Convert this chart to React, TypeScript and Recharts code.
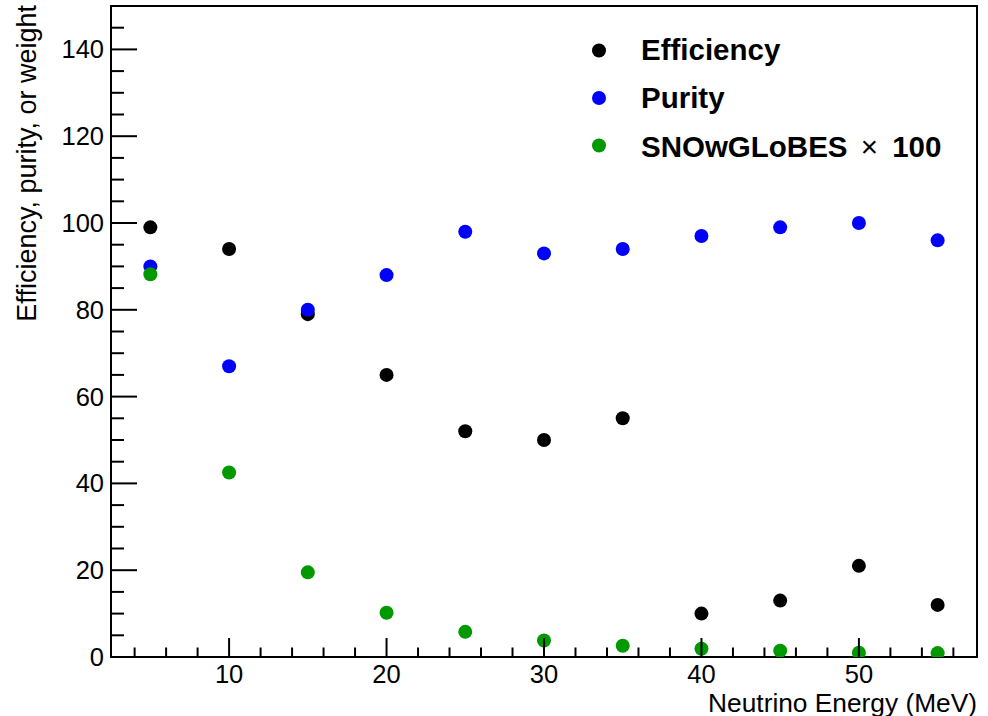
import React from 'react';
import { ScatterChart, Scatter, XAxis, YAxis, Legend, ReferenceArea, Label } from 'recharts';

// ---- data ----
const energies = [5, 10, 15, 20, 25, 30, 35, 40, 45, 50, 55];
const efficiency = [99, 94, 79, 65, 52, 50, 55, 10, 13, 21, 12];
const purity = [90, 67, 80, 88, 98, 93, 94, 97, 99, 100, 96];
const snowglobes = [88.2, 42.5, 19.5, 10.2, 5.8, 3.8, 2.6, 1.9, 1.45, 1.0, 0.9];

const seriesNames = ['Efficiency', 'Purity', 'SNOwGLoBES × 100'];
const seriesColors = ['#000000', '#0000ff', '#009900'];

const xTicks = [4, 6, 8, 10, 12, 14, 16, 18, 20, 22, 24, 26, 28, 30, 32, 34, 36, 38, 40, 42, 44, 46, 48, 50, 52, 54, 56];
const xMajor = [10, 20, 30, 40, 50];
const yTicks = [0, 5, 10, 15, 20, 25, 30, 35, 40, 45, 50, 55, 60, 65, 70, 75, 80, 85, 90, 95, 100, 105, 110, 115, 120, 125, 130, 135, 140, 145];
const yMajor = [0, 20, 40, 60, 80, 100, 120, 140];

const xTitle = 'Neutrino Energy (MeV)';
const yTitle = 'Efficiency, purity, or weight';

const FONT = '"Liberation Sans", Arial, Helvetica, sans-serif';

const toPoints = (ys: number[]) => energies.map((x, i) => ({ x, y: ys[i] }));
const seriesData = [toPoints(efficiency), toPoints(purity), toPoints(snowglobes)];

const XTick = (props: any) => {
  const { x, y, payload } = props;
  const major = xMajor.includes(payload.value);
  return (
    <g>
      <line x1={x} x2={x} y1={y} y2={y - (major ? 19 : 9.5)} stroke="#000" strokeWidth={2} />
      {major && (
        <text x={x} y={y + 26} textAnchor="middle" fontSize={25.5} fontFamily={FONT} fill="#000">
          {payload.value}
        </text>
      )}
    </g>
  );
};

const YTick = (props: any) => {
  const { x, y, payload } = props;
  const major = yMajor.includes(payload.value);
  return (
    <g>
      <line x1={x} x2={x + (major ? 26 : 13)} y1={y} y2={y} stroke="#000" strokeWidth={2} />
      {major && (
        <text x={x - 7} y={y + 9} textAnchor="end" fontSize={25.5} fontFamily={FONT} fill="#000">
          {payload.value}
        </text>
      )}
    </g>
  );
};

const makeDot = (color: string) => (props: any) => {
  const { cx, cy } = props;
  if (cx == null || cy == null) return <g />;
  return <circle cx={cx} cy={cy} r={7} fill={color} />;
};

const renderLegend = () => (
  <svg width={380} height={150} style={{ overflow: 'visible' }}>
    {seriesNames.map((name, i) => {
      const parts = name.split('×');
      const cy = 28.5 + i * 47.5;
      const ty = 38 + i * 48.3;
      return (
        <g key={name}>
          <circle cx={14} cy={cy} r={7} fill={seriesColors[i]} />
          <text x={56} y={ty} fontSize={29.5} fontWeight="bold" fontFamily={FONT} fill="#000">
            {parts.length > 1 ? (
              <>
                {parts[0]}
                <tspan dx={5} fontWeight="normal">×</tspan>
                <tspan dx={6}>{parts[1]}</tspan>
              </>
            ) : (
              name
            )}
          </text>
        </g>
      );
    })}
  </svg>
);

export default function App() {
  return (
    <div style={{ position: 'absolute', left: 0, top: 0, width: 988, height: 716, background: '#fff' }}>
      <ScatterChart width={988} height={716} margin={{ top: 6, right: 11, bottom: 0, left: 0 }}>
        <XAxis
          type="number"
          dataKey="x"
          domain={[2.5, 57.5]}
          ticks={xTicks}
          interval={0}
          height={59}
          tickSize={0}
          tickMargin={0}
          tickLine={false}
          tick={<XTick />}
          axisLine={{ stroke: '#000', strokeWidth: 2 }}
          allowDataOverflow
        >
          <Label
            content={(p: any) => {
              const vb = p.viewBox || { x: 111, y: 657, width: 866, height: 59 };
              return (
                <text x={vb.x + vb.width} y={vb.y + 54.5} textAnchor="end" fontSize={26.3} fontFamily={FONT} fill="#000">
                  {xTitle}
                </text>
              );
            }}
          />
        </XAxis>
        <YAxis
          type="number"
          dataKey="y"
          domain={[0, 150]}
          ticks={yTicks}
          interval={0}
          width={111}
          tickSize={0}
          tickMargin={0}
          tickLine={false}
          tick={<YTick />}
          axisLine={{ stroke: '#000', strokeWidth: 2 }}
          allowDataOverflow
        >
          <Label
            content={(p: any) => {
              const vb = p.viewBox || { x: 0, y: 6, width: 111, height: 651 };
              const tx = 36;
              const ty = vb.y - 1;
              return (
                <text
                  x={tx}
                  y={ty}
                  transform={`rotate(-90, ${tx}, ${ty})`}
                  textAnchor="end"
                  fontSize={27}
                  fontFamily={FONT}
                  fill="#000"
                >
                  {yTitle}
                </text>
              );
            }}
          />
        </YAxis>
        <ReferenceArea x1={2.5} x2={57.5} y1={0} y2={150} fill="none" stroke="#000" strokeWidth={2} ifOverflow="visible" />
        {seriesData.map((d, i) => (
          <Scatter
            key={seriesNames[i]}
            name={seriesNames[i]}
            data={d}
            fill={seriesColors[i]}
            shape={makeDot(seriesColors[i])}
            isAnimationActive={false}
          />
        ))}
        <Legend
          layout="vertical"
          align="center"
          verticalAlign="middle"
          wrapperStyle={{ position: 'absolute', left: 585, top: 22, width: 380, height: 150 }}
          content={renderLegend}
        />
      </ScatterChart>
    </div>
  );
}
